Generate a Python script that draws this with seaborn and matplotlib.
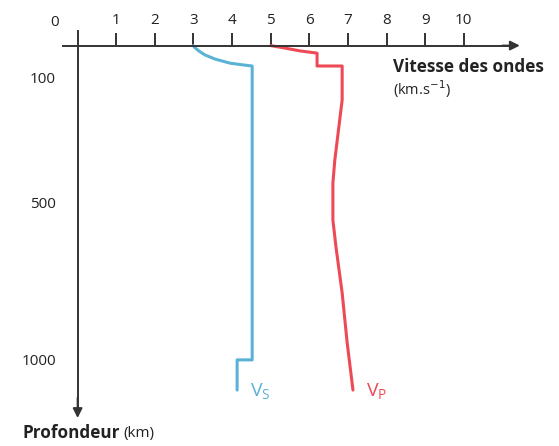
import matplotlib
matplotlib.use("Agg")
import matplotlib.pyplot as plt
import pandas as pd
import seaborn as sns

# vitesse (km/s) et profondeur (km)
vs_vitesse = [2.99, 3.04, 3.15, 3.30, 3.56, 3.95, 4.25, 4.52, 4.52, 4.13, 4.13]
vs_profondeur = [0, 7, 18, 30, 43, 56, 61, 65, 1000, 1000, 1096]

vp_vitesse = [5.0, 5.37, 5.76, 6.2, 6.2, 6.85, 6.85, 6.66, 6.61, 6.61, 6.69, 6.85, 6.98, 7.13]
vp_profondeur = [0, 8, 17, 24, 65, 65, 173, 364, 437, 555, 641, 787, 946, 1096]

x_ticks = list(range(1, 11))
y_ticks = [100, 500, 1000]

BLUE = "#5ab3d4"
RED = "#ee4a55"
INK = "#333333"
TXT = "#222222"

df = pd.concat([
    pd.DataFrame({"vitesse": vs_vitesse, "profondeur": vs_profondeur, "onde": "Vs"}),
    pd.DataFrame({"vitesse": vp_vitesse, "profondeur": vp_profondeur, "onde": "Vp"}),
])

sns.set_theme(style="white")
plt.rcParams["font.family"] = ["Open Sans", "DejaVu Sans"]

fig = plt.figure(figsize=(5.59, 4.46), dpi=100)
ax = fig.add_axes([0, 0, 1, 1])
ax.set_facecolor("white")

sns.lineplot(data=df, x="vitesse", y="profondeur", hue="onde", units="onde",
             estimator=None, sort=False, palette={"Vs": BLUE, "Vp": RED},
             linewidth=2.2, legend=False, ax=ax)

ax.set_xlim(-2.01, 12.465)
ax.set_ylim(1274, -145)

for s in ("bottom", "right"):
    ax.spines[s].set_visible(False)
ax.spines["top"].set_position(("data", 0))
ax.spines["left"].set_position(("data", 0))
ax.spines["top"].set_bounds(-0.38, 11.2)
ax.spines["left"].set_bounds(-46, 1150)
for s in ("top", "left"):
    ax.spines[s].set_color(INK)
    ax.spines[s].set_linewidth(1.4)

ax.xaxis.tick_top()
ax.set_xticks(x_ticks)
ax.set_yticks(y_ticks)
ax.tick_params(axis="x", direction="out", length=9.5, width=1.4, color=INK,
               pad=3, labelsize=11, labelcolor=TXT)
ax.tick_params(axis="y", direction="out", length=9.5, width=1.4, color=INK,
               pad=6, labelsize=11, labelcolor=TXT)
ax.set_xlabel("")
ax.set_ylabel("")

# pointes de fleche
ax.annotate("", xy=(11.45, 0), xytext=(11.0, 0),
            arrowprops=dict(arrowstyle="-|>", color=INK, lw=1.4,
                            mutation_scale=14, shrinkA=0, shrinkB=0))
ax.annotate("", xy=(0, 1185), xytext=(0, 1120),
            arrowprops=dict(arrowstyle="-|>", color=INK, lw=1.4,
                            mutation_scale=14, shrinkA=0, shrinkB=0))

ax.text(-0.585, -75, "0", ha="center", va="center", fontsize=11, color=TXT)

W, H = 559, 446
fig.text(393 / W, 1 - 67 / H, "Vitesse des ondes", ha="left", va="center",
         fontsize=12.3, fontweight="bold", color=TXT)
fig.text(393 / W, 1 - 89 / H, r"(km.s$^{-1}$)", ha="left", va="center",
         fontsize=10.5, color=TXT)
t = fig.text(22 / W, 1 - 433 / H, "Profondeur", ha="left", va="center",
             fontsize=12.3, fontweight="bold", color=TXT)
ax.annotate("(km)", xy=(1, 0.5), xycoords=t, xytext=(3, 0),
            textcoords="offset points", ha="left", va="center",
            fontsize=11, color=TXT)

fig.text(250 / W, 1 - 391 / H, r"$\mathregular{V_S}$", ha="left", va="center",
         fontsize=14, color=BLUE)
fig.text(366 / W, 1 - 391 / H, r"$\mathregular{V_P}$", ha="left", va="center",
         fontsize=14, color=RED)

fig.savefig("out.png", dpi=100, facecolor="white")
